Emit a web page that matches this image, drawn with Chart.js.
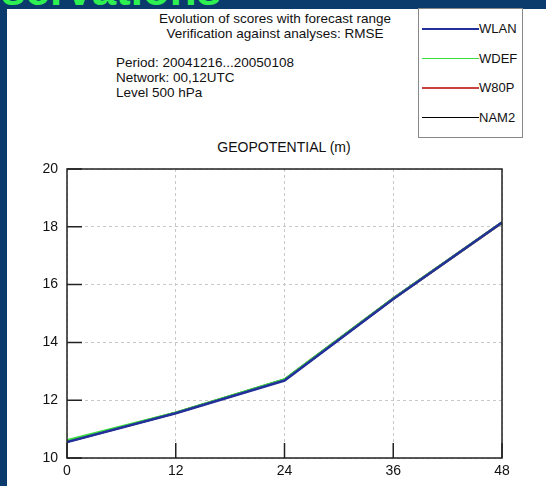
<!DOCTYPE html>
<html>
<head>
<meta charset="utf-8">
<script src="https://cdn.jsdelivr.net/npm/chart.js@4"></script>
<style>
  html, body { margin: 0; padding: 0; }
  body { width: 546px; height: 486px; background: #0b3a6c; position: relative; overflow: hidden;
         font-family: "Liberation Sans", Arial, sans-serif; color: #111; }
  #slideTitle { position: absolute; left: -60px; top: -35px; font: bold 44px "Liberation Sans", Arial, sans-serif;
                color: #2ef050; white-space: nowrap; }
  #panel { position: absolute; left: 7px; top: 9px; right: 0; bottom: 0; background: #fff; }
  .txt { position: absolute; font-size: 13.5px; white-space: nowrap; line-height: 15px; }
  .center { transform: translateX(-50%); }
  #legend { position: absolute; left: 418px; top: 8px; width: 103px; height: 128px; border: 1px solid #888; background: #fff; }
  .item { position: absolute; left: 3px; height: 15px; font-size: 13px; }
  .item span.line { position: absolute; left: 0; top: 7px; width: 57px; height: 1.6px; }
  .item span.lab { position: absolute; left: 57px; top: 0; line-height: 15px; }
  #wrap { position: absolute; left: 0; top: 0; width: 546px; height: 486px; }
</style>
</head>
<body>
<div id="slideTitle">Observations</div>
<div id="panel"></div>
<div class="txt center" style="left:275px;top:11px">Evolution of scores with forecast range</div>
<div class="txt center" style="left:275px;top:26px">Verification against analyses: RMSE</div>
<div class="txt" style="left:116px;top:55px">Period: 20041216...20050108</div>
<div class="txt" style="left:116px;top:70px">Network: 00,12UTC</div>
<div class="txt" style="left:116px;top:85px">Level 500 hPa</div>
<div class="txt center" style="left:284px;top:140px;font-size:14px">GEOPOTENTIAL (m)</div>
<div id="legend"></div>
<div id="wrap"><canvas id="scoreChart"></canvas></div>
<script>
// forecast range (h) and RMSE per experiment
const hours = [0, 12, 24, 36, 48];
const seriesNames = ['WLAN', 'WDEF', 'W80P', 'NAM2'];
const wlan = [10.55, 11.55, 12.68, 15.50, 18.15];
const wdef = [10.61, 11.57, 12.72, 15.52, 18.15];
const w80p = [10.57, 11.56, 12.70, 15.51, 18.14];
const nam2 = [10.57, 11.56, 12.71, 15.52, 18.15];
const colors = ['#23309c', '#3be040', '#cc4040', '#000000'];

const allSeries = [wlan, wdef, w80p, nam2];

const datasets = allSeries.map((vals, i) => ({
  label: seriesNames[i],
  data: hours.map((h, j) => ({ x: h, y: vals[j] })),
  borderColor: colors[i],
  borderWidth: 2.5,
  pointRadius: 0,
  fill: false,
  tension: 0
}));

// legend box like the original plot
const legendEl = document.getElementById('legend');
seriesNames.forEach((name, i) => {
  const div = document.createElement('div');
  div.className = 'item';
  div.style.top = (12 + i * 29.5) + 'px';
  div.innerHTML = '<span class="line" style="background:' + colors[i] + '"></span><span class="lab">' + name + '</span>';
  legendEl.appendChild(div);
});

// frame and inward tick marks
const framePlugin = {
  id: 'frame',
  afterDraw(chart) {
    const { ctx, chartArea: a, scales } = chart;
    ctx.save();
    ctx.strokeStyle = '#222';
    ctx.lineWidth = 1.5;
    ctx.strokeRect(a.left, a.top, a.right - a.left, a.bottom - a.top);
    ctx.beginPath();
    scales.y.ticks.forEach(t => {
      const py = scales.y.getPixelForValue(t.value);
      ctx.moveTo(a.left, py);
      ctx.lineTo(a.left + 15, py);
    });
    scales.x.ticks.forEach(t => {
      const px = scales.x.getPixelForValue(t.value);
      ctx.moveTo(px, a.bottom);
      ctx.lineTo(px, a.bottom - 15);
    });
    ctx.stroke();
    ctx.restore();
  }
};

const ctx = document.getElementById('scoreChart').getContext('2d');

new Chart(ctx, {
  type: 'line',
  data: { datasets },
  plugins: [framePlugin],
  options: {
    responsive: true,
    maintainAspectRatio: false,
    animation: false,
    layout: { padding: { left: 0, right: 44, top: 169, bottom: 0 } },
    plugins: {
      legend: { display: false },
      tooltip: { enabled: false }
    },
    scales: {
      x: {
        type: 'linear',
        min: 0,
        max: 48,
        ticks: {
          stepSize: 12,
          color: '#111',
          padding: 5,
          font: { family: '"Liberation Sans", Arial, sans-serif', size: 14 }
        },
        grid: { color: '#c8c8c8', drawTicks: false },
        border: { display: false, dash: [3, 3] },
        afterFit(scale) { scale.height = 28; }
      },
      y: {
        min: 10,
        max: 20,
        ticks: {
          stepSize: 2,
          color: '#111',
          padding: 9,
          font: { family: '"Liberation Sans", Arial, sans-serif', size: 14 }
        },
        grid: { color: '#c8c8c8', drawTicks: false },
        border: { display: false, dash: [3, 3] },
        afterFit(scale) { scale.width = 67; }
      }
    }
  }
});
</script>
</body>
</html>
